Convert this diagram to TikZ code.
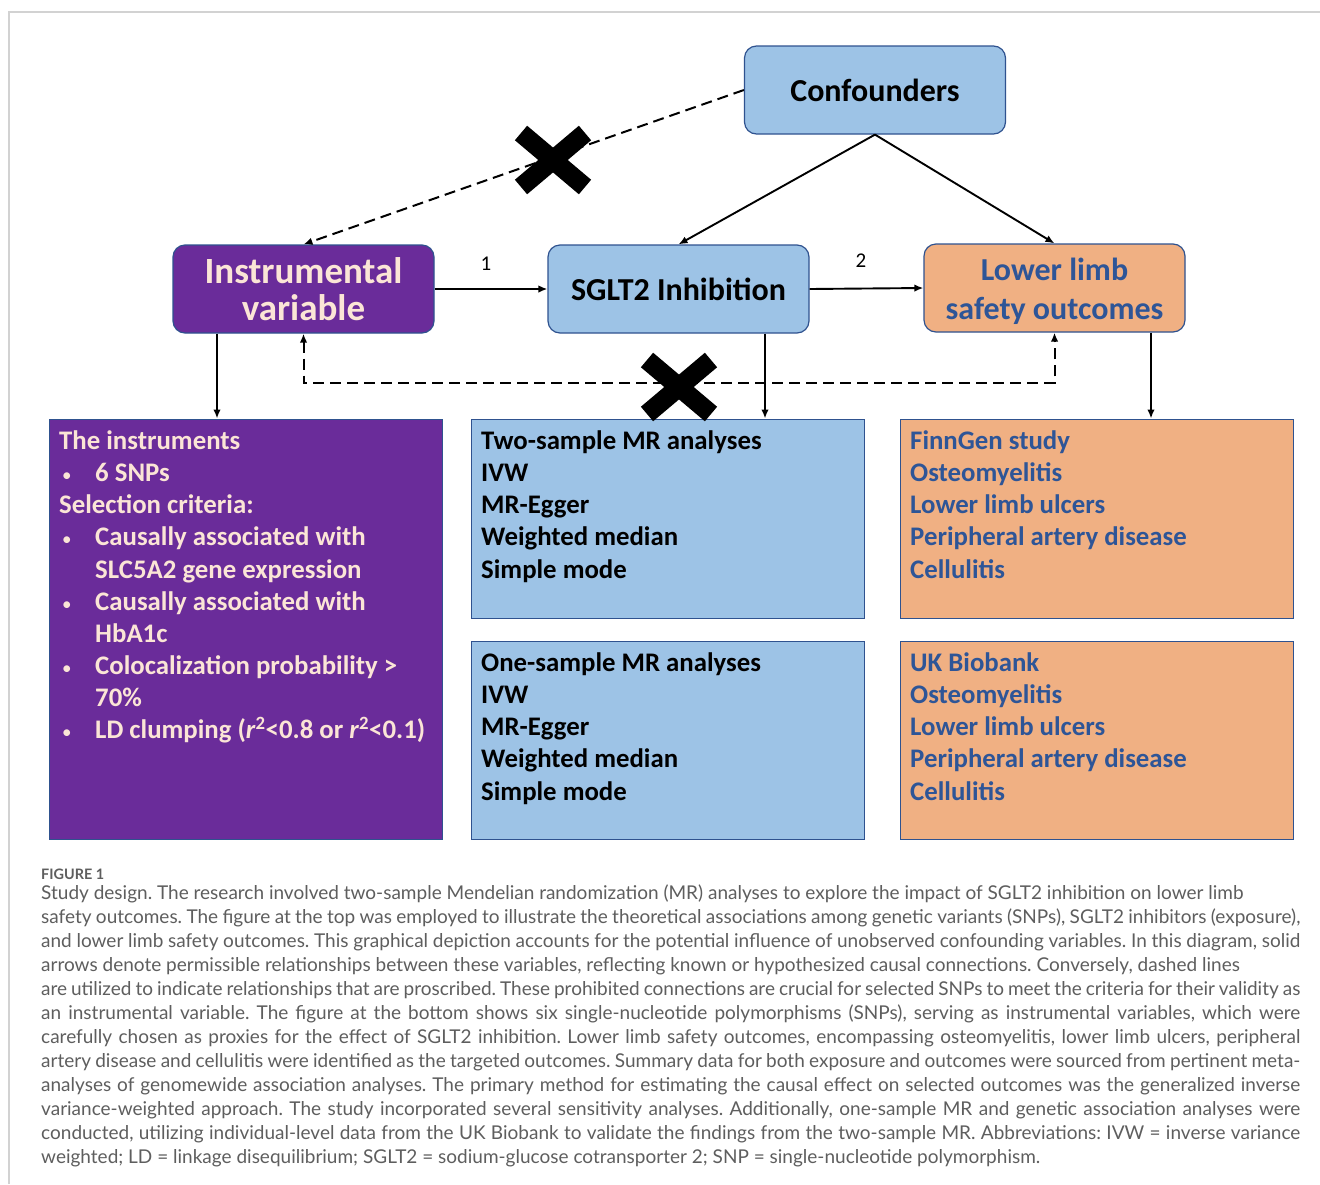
\documentclass[tikz,border=0pt]{standalone}
\usepackage{fontspec}
\setmainfont{Carlito}
\newfontfamily\capfont{Lato}
\usetikzlibrary{arrows.meta,calc}
\definecolor{cfblue}{HTML}{9DC3E6}
\definecolor{bord}{HTML}{2F528F}
\definecolor{purp}{HTML}{6A2C9A}
\definecolor{peach}{HTML}{FBE5D6}
\definecolor{orng}{HTML}{F0B083}
\definecolor{navy}{HTML}{2E5597}
\definecolor{capgray}{HTML}{5E5E5E}
\definecolor{framegray}{HTML}{D2D2D2}
\newcommand\bul{\makebox[36pt][l]{\hspace{3pt}{\mdseries\fontsize{19}{19}\selectfont\textbullet}}}
\newcommand\ind{\hspace{36pt}}
\tikzset{
  headbox/.style={draw=bord, line width=1.2pt, rounded corners=12pt, minimum width=261pt, minimum height=88pt, align=center, inner sep=0pt, font=\bfseries\fontsize{32}{37}\selectfont},
  listbox/.style={draw=bord, line width=1pt, minimum width=393pt, inner sep=0pt},
  listtext/.style={anchor=north west, inner sep=0pt, align=left, font=\bfseries\fontsize{26.8}{32.1}\selectfont},
  arr/.style={-{Latex[length=9pt,width=7.5pt]}, line width=1.9pt},
  darr/.style={{Latex[length=9pt,width=7.5pt]}-{Latex[length=9pt,width=7.5pt]}, line width=2pt, dash pattern=on 11pt off 6pt},
  darr1/.style={-{Latex[length=9pt,width=7.5pt]}, line width=2pt, dash pattern=on 11pt off 6pt},
  crossbar/.style={line width=19pt, line cap=butt},
  numlab/.style={font=\fontsize{21}{24}\selectfont, inner sep=0pt}
}
\begin{document}
\begin{tikzpicture}[x=1pt,y=-1pt]
\useasboundingbox (0,0) rectangle (1320,1184);
\fill[white] (0,0) rectangle (1320,1184);
\draw[framegray, line width=1.3pt] (9,1184) -- (9,12) -- (1320,12);

% header boxes
\node[headbox, fill=cfblue] (cf) at (875,90) {Confounders};
\node[headbox, fill=purp, text=peach, font=\bfseries\fontsize{37}{37}\selectfont] (iv) at (303.5,289) {Instrumental\\variable};
\node[headbox, fill=cfblue] (sg) at (678.5,289) {SGLT2 Inhibition};
\node[headbox, fill=orng] (ll) at (1054.5,288) {};
\node[align=center, inner sep=0pt, text=navy, font=\bfseries\fontsize{32}{39}\selectfont] (llt) at (1054.5,291) {Lower limb\\safety outcomes};

% lower boxes
\node[listbox, fill=purp, minimum height=420pt] (pb) at (245.5,629) {};
\node[listbox, fill=cfblue, minimum height=199pt] (bb1) at (667.5,518.5) {};
\node[listbox, fill=cfblue, minimum height=198pt] (bb2) at (667.5,740) {};
\node[listbox, fill=orng, minimum height=199pt] (ob1) at (1096.5,518.5) {};
\node[listbox, fill=orng, minimum height=198pt] (ob2) at (1096.5,740) {};

% texts in lower boxes
\node[listtext, text=peach] (pt) at (59,427) {\strut The instruments\\
\bul 6 SNPs\\
Selection criteria:\\
\bul Causally associated with\\
\ind SLC5A2 gene expression\\
\bul Causally associated with\\
\ind HbA1c\\
\bul Colocalization probability >\\
\ind 70\%\\
\bul LD clumping (\textit{r}\textsuperscript{2}<0.8 or \textit{r}\textsuperscript{2}<0.1)};
\node[listtext] (b1t) at (481,427) {\strut Two-sample MR analyses\\IVW\\MR-Egger\\Weighted median\\Simple mode};
\node[listtext] (b2t) at (481,649) {\strut One-sample MR analyses\\IVW\\MR-Egger\\Weighted median\\Simple mode};
\node[listtext, text=navy] (o1t) at (910,427) {\strut FinnGen study\\Osteomyelitis\\Lower limb ulcers\\Peripheral artery disease\\Cellulitis};
\node[listtext, text=navy] (o2t) at (910,649) {\strut UK Biobank\\Osteomyelitis\\Lower limb ulcers\\Peripheral artery disease\\Cellulitis};

% solid arrows
\draw[arr] (iv.east) -- (sg.west);
\draw[arr] (sg.east) -- (ll.west);
\node[numlab] (n1) at (486,264) {1};
\node[numlab] (n2) at (861,261) {2};
\draw[arr] (cf.south) -- (sg.north);
\draw[arr] (cf.south) -- (ll.north);
\coordinate (x1) at (217,0);
\coordinate (x2) at (765,0);
\coordinate (x3) at (1151,0);
\draw[arr] (x1 |- iv.south) -- (x1 |- pb.north);
\draw[arr] (x2 |- sg.south) -- (x2 |- bb1.north);
\draw[arr] (x3 |- ll.south) -- (x3 |- ob1.north);

% dashed
\draw[darr1] (cf.west) -- (iv.north);
\coordinate (dy) at (0,383);
\draw[darr] (iv.south) -- (iv.south |- dy) -- (ll.south |- dy) -- (ll.south);

% crosses
\coordinate (c1) at (553,160);
\coordinate (c2) at (679,387);
\draw[crossbar] ($(c1)+(-32,-27)$) -- ($(c1)+(32,27)$);
\draw[crossbar] ($(c1)+(-32,27)$) -- ($(c1)+(32,-27)$);
\draw[crossbar] ($(c2)+(-32,-27)$) -- ($(c2)+(32,27)$);
\draw[crossbar] ($(c2)+(-32,27)$) -- ($(c2)+(32,-27)$);

% caption
\node[anchor=base west, inner sep=0pt, text=capgray, font=\capfont\bfseries\fontsize{14.4}{16}\selectfont] (fig) at (41,879) {FIGURE 1};
\node[anchor=north west, inner sep=0pt, text width=1259pt, align=justify, text=capgray, font=\capfont\fontsize{19}{24}\selectfont] (cap) at (41,882.2) {\frenchspacing\hyphenpenalty=10000\exhyphenpenalty=10000\strut Study design. The research involved two-sample Mendelian randomization (MR) analyses to explore the impact of SGLT2 inhibition on lower limb\newline
safety outcomes. The figure at the top was employed to illustrate the theoretical associations among genetic variants (SNPs), SGLT2 inhibitors (exposure),\linebreak
and lower limb safety outcomes. This graphical depiction accounts for the potential influence of unobserved confounding variables. In this diagram, solid\linebreak
arrows denote permissible relationships between these variables, reflecting known or hypothesized causal connections. Conversely, dashed lines\newline
are utilized to indicate relationships that are proscribed. These prohibited connections are crucial for selected SNPs to meet the criteria for their validity as\linebreak
an instrumental variable. The figure at the bottom shows six single-nucleotide polymorphisms (SNPs), serving as instrumental variables, which were\linebreak
carefully chosen as proxies for the effect of SGLT2 inhibition. Lower limb safety outcomes, encompassing osteomyelitis, lower limb ulcers, peripheral\linebreak
artery disease and cellulitis were identified as the targeted outcomes. Summary data for both exposure and outcomes were sourced from pertinent meta-\linebreak
analyses of genomewide association analyses. The primary method for estimating the causal effect on selected outcomes was the generalized inverse\linebreak
variance-weighted approach. The study incorporated several sensitivity analyses. Additionally, one-sample MR and genetic association analyses were\linebreak
conducted, utilizing individual-level data from the UK Biobank to validate the findings from the two-sample MR. Abbreviations: IVW = inverse variance\linebreak
weighted; LD = linkage disequilibrium; SGLT2 = sodium-glucose cotransporter 2; SNP = single-nucleotide polymorphism.};
\end{tikzpicture}
\end{document}
